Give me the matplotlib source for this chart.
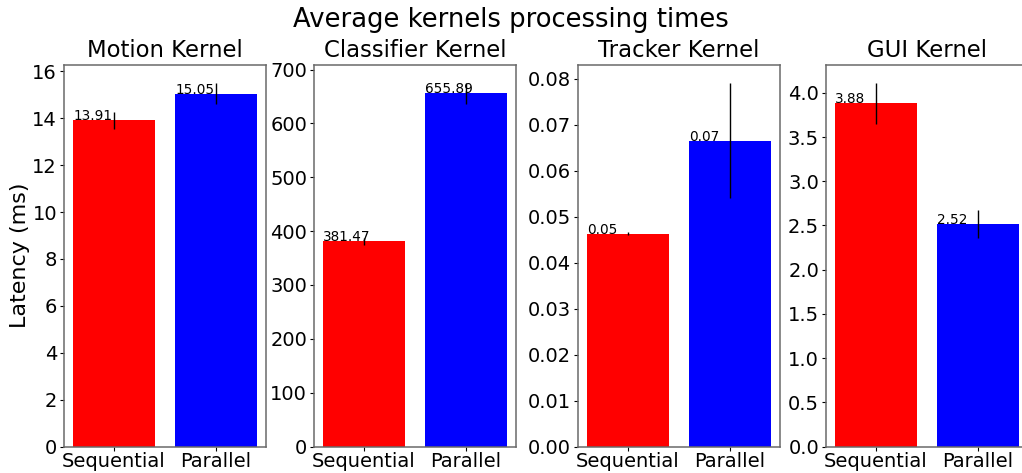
import matplotlib
matplotlib.use("Agg")
import matplotlib.pyplot as plt

kernels = ["Motion Kernel", "Classifier Kernel", "Tracker Kernel", "GUI Kernel"]
modes = ["Sequential", "Parallel"]
motion_ms = [13.91, 15.05]
motion_err = [0.36, 0.45]
classifier_ms = [381.47, 655.89]
classifier_err = [6.5, 19.0]
tracker_ms = [0.0463, 0.0665]
tracker_err = [0.0003, 0.0125]
gui_ms = [3.88, 2.52]
gui_err = [0.23, 0.16]
bar_colors = ["red", "blue"]

values = [motion_ms, classifier_ms, tracker_ms, gui_ms]
errors = [motion_err, classifier_err, tracker_err, gui_err]

fig = plt.figure(figsize=(10.22, 4.73), dpi=100)
lefts = [64, 314, 578, 826]
width = 202
bottom = 1 - 446.5 / 473
height = (446.5 - 65) / 473

for i, (name, vals, errs) in enumerate(zip(kernels, values, errors)):
    ax = fig.add_axes([lefts[i] / 1022, bottom, width / 1022, height])
    x = range(len(modes))
    ax.bar(x, vals, yerr=errs, color=bar_colors, ecolor="black", width=0.8,
           error_kw={"elinewidth": 1})
    for xi, v in zip(x, vals):
        ax.text(xi - 0.4, v, f"{v:.2f}", fontsize=9.8)
    ax.set_xticks(list(x))
    ax.set_xticklabels(modes)
    ax.set_title(name, fontsize=16.4)
    ax.tick_params(labelsize=14, length=3)
    ax.tick_params(axis="x", pad=1)
    ax.tick_params(axis="y", pad=2)
    for sp in ax.spines.values():
        sp.set_color("dimgray")
        sp.set_linewidth(1.1)
    if i == 0:
        ax.set_ylabel("Latency (ms)", fontsize=16, labelpad=2)

fig.suptitle("Average kernels processing times", fontsize=18.6, y=0.985)
fig.savefig("out.png", dpi=100)
